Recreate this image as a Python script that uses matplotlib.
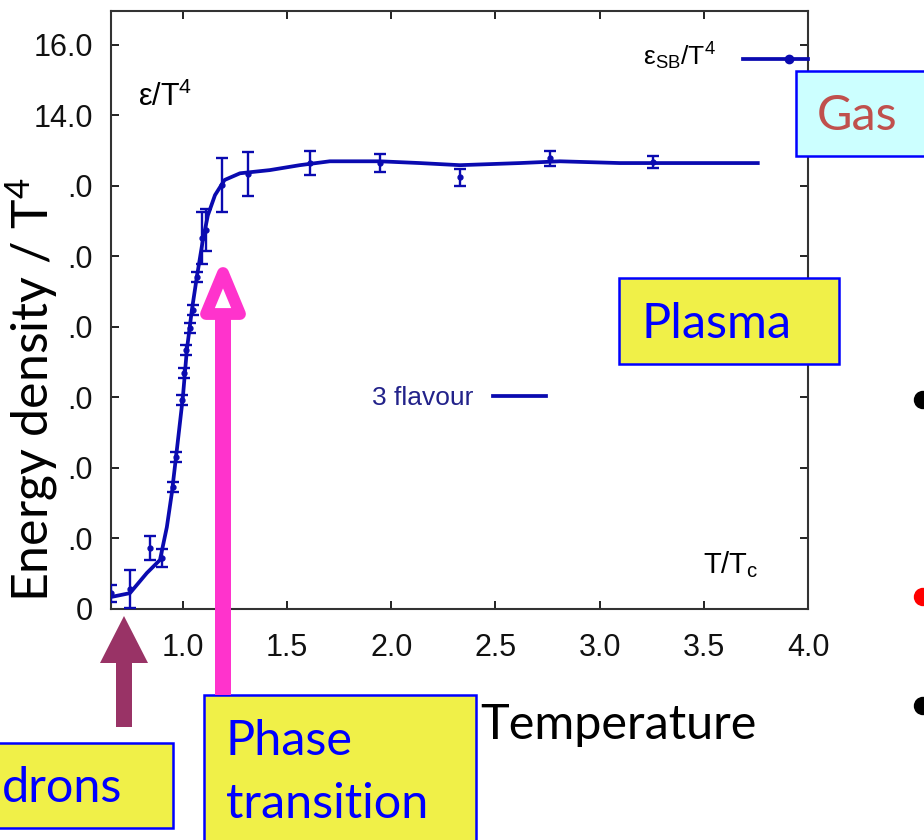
#!/usr/bin/env python3
"""Lattice QCD energy density vs T/Tc, as pasted on a lecture slide."""

import matplotlib

matplotlib.use("Agg")
import matplotlib.patches as mpatches
import matplotlib.pyplot as plt
from matplotlib.transforms import Affine2D

W, H = 924, 840

# lattice points with error bars (T/Tc, eps/T^4, error)
point_t = [0.655, 0.746, 0.842, 0.899, 0.952, 0.966, 0.995, 1.005, 1.014, 1.034, 1.048,
           1.067, 1.091, 1.110, 1.187, 1.312, 1.610, 1.945, 2.329, 2.761, 3.255]
point_e = [0.44, 0.57, 1.73, 1.45, 3.46, 4.31, 5.92, 6.69, 7.34, 7.96, 8.47,
           9.41, 10.51, 10.74, 12.01, 12.33, 12.64, 12.64, 12.24, 12.78, 12.67]
point_err = [0.24, 0.54, 0.35, 0.25, 0.15, 0.15, 0.15, 0.15, 0.15, 0.15, 0.15,
             0.15, 0.74, 0.60, 0.77, 0.62, 0.35, 0.26, 0.24, 0.21, 0.16]

# smooth 3 flavour curve
curve_t = [0.655, 0.746, 0.827, 0.890, 0.923, 0.947, 0.971, 1.000, 1.019, 1.043, 1.067,
           1.096, 1.120, 1.154, 1.200, 1.274, 1.417, 1.561, 1.705, 1.945, 2.137,
           2.329, 2.617, 2.809, 3.097, 3.481, 3.759]
curve_e = [0.34, 0.45, 1.02, 1.39, 2.32, 3.29, 4.51, 6.01, 7.34, 8.47, 9.41,
           10.46, 11.16, 11.73, 12.16, 12.35, 12.44, 12.58, 12.69, 12.69, 12.64,
           12.58, 12.64, 12.69, 12.64, 12.64, 12.64]

# Stefan-Boltzmann limit
sb_t = [3.69, 4.0]
sb_e = [15.58, 15.58]
sb_point_t = [3.91]
sb_point_e = [15.58]

x_ticks = [1.0, 1.5, 2.0, 2.5, 3.0, 3.5, 4.0]
y_ticks = [0, 2, 4, 6, 8, 10, 12, 14, 16]
# labels below 14.0 are mostly hidden behind the slide's axis title
y_tick_labels = ["0", ".0", ".0", ".0", ".0", ".0", ".0", "14.0", "16.0"]

BLUE = "#0a0ab0"
PLOT_FONT = "Liberation Sans"
SLIDE_FONT = "Lato"


def main() -> None:
    fig = plt.figure(figsize=(W / 100, H / 100), dpi=100)
    fig.patch.set_facecolor("white")
    # top-left pixel coordinates of the slide
    px = Affine2D().scale(1 / W, -1 / H).translate(0, 1) + fig.transFigure

    ax = fig.add_axes([111 / W, 1 - 609 / H, 697 / W, 598 / H])
    ax.plot(curve_t, curve_e, color=BLUE, linewidth=2.7, label="3 flavour", zorder=3)
    ax.errorbar(point_t, point_e, yerr=point_err, fmt="o", markersize=3.5, color=BLUE,
                elinewidth=1.7, capsize=4, capthick=1.7, zorder=4)
    ax.plot(sb_t, sb_e, color=BLUE, linewidth=2.7, clip_on=False, zorder=3)
    ax.plot(sb_point_t, sb_point_e, "o", markersize=6, color=BLUE, zorder=4)

    ax.set_xlim(0.655, 4.0)
    ax.set_ylim(0, 16.95)
    ax.set_xticks(x_ticks)
    ax.set_xticklabels([f"{t:.1f}" for t in x_ticks])
    ax.set_yticks(y_ticks)
    ax.set_yticklabels(y_tick_labels)
    ax.tick_params(direction="in", length=6, width=1.3, top=True, right=True,
                   labelsize=22, colors="#111111")
    ax.tick_params(axis="x", pad=17)
    ax.tick_params(axis="y", pad=13)
    for lab in ax.get_xticklabels() + ax.get_yticklabels():
        lab.set_fontfamily(PLOT_FONT)
    for spine in ax.spines.values():
        spine.set_color("#333333")
        spine.set_linewidth(1.5)

    ax.text(0.784, 14.25, r"$\mathregular{ε/T^4}$", fontsize=22, family=PLOT_FONT)
    ax.text(3.207, 15.41, r"$\mathregular{ε_{SB}/T^4}$", fontsize=19, family=PLOT_FONT)
    ax.text(3.495, 1.02, r"$\mathregular{T/T_c}$", fontsize=21, family=PLOT_FONT)
    ax.legend(loc="center", bbox_to_anchor=(0.499, 0.353), frameon=False, markerfirst=False,
              handlelength=2.0, handletextpad=0.75, prop={"family": PLOT_FONT, "size": 19},
              labelcolor="#22228a")

    # slide overlays
    fig.text(49, 602, r"Energy density / $\mathregular{T^4}$", transform=px, rotation=90,
             rotation_mode="anchor", ha="left", va="baseline", fontsize=36,
             family=SLIDE_FONT, color="black", zorder=4)
    fig.text(480, 739, "Temperature", transform=px, ha="left", va="baseline", fontsize=35,
             family=SLIDE_FONT, color="black", zorder=6)

    boxes = [
        ((796, 71), 140, 85, "#ccffff"),
        ((619, 278), 220, 86, "#f0f048"),
        ((204, 695), 272, 160, "#f0f048"),
        ((-10, 743), 183, 85, "#f0f048"),
    ]
    for (x0, y0), w, h, fc in boxes:
        fig.add_artist(mpatches.Rectangle((x0, y0), w, h, transform=px, facecolor=fc,
                                          edgecolor="#0000ff", linewidth=1.8, zorder=5))
    text_kw = dict(transform=px, va="baseline", fontsize=35, family=SLIDE_FONT, zorder=6)
    fig.text(817, 130, "Gas", color="#c0504d", **text_kw)
    fig.text(642, 338, "Plasma", color="#0000ff", **text_kw)
    fig.text(226, 755, "Phase", color="#0000ff", **text_kw)
    fig.text(226, 818, "transition", color="#0000ff", **text_kw)
    fig.text(2, 802, "drons", color="#0000ff", ha="left", **text_kw)

    # arrows
    pink = "#ff33cc"
    fig.add_artist(mpatches.Rectangle((215, 318), 16, 377, transform=px, facecolor=pink,
                                      edgecolor="none", zorder=5))
    fig.add_artist(mpatches.Polygon([(223, 273), (206, 314), (240, 314)], closed=True,
                                    transform=px, facecolor="white", edgecolor=pink,
                                    linewidth=8.5, joinstyle="round", zorder=5))
    fig.add_artist(mpatches.FancyArrow(124, 727, 0, -111, width=16, head_width=48,
                                       head_length=47, length_includes_head=True,
                                       transform=px, facecolor="#993366",
                                       edgecolor="none", zorder=5))

    # bullets at the cut-off right edge
    for yc, col in [(400, "black"), (597, "#ff0000"), (706, "black")]:
        fig.add_artist(mpatches.Circle((923, yc), 8.5, transform=px, color=col, zorder=5))

    fig.savefig("out.png", dpi=100, facecolor="white")
    plt.close(fig)


if __name__ == "__main__":
    main()
